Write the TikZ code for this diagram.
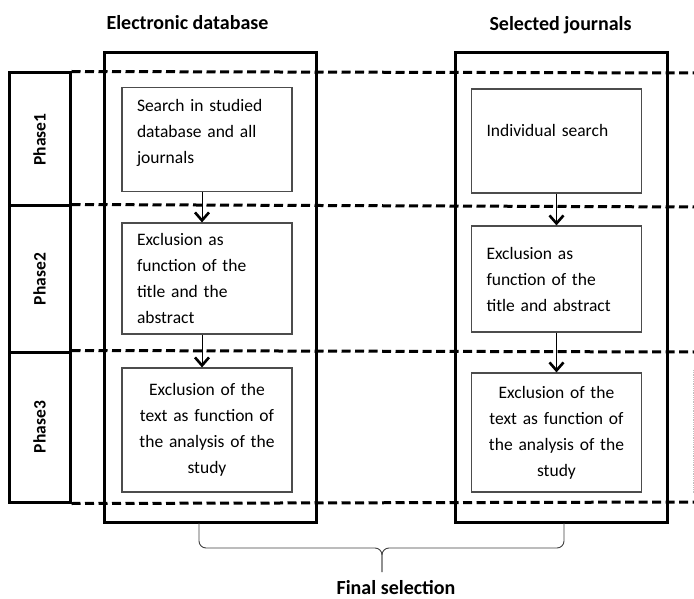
\documentclass[tikz,border=0pt]{standalone}
\usepackage{fontspec}
\setmainfont{Carlito}
\usepackage{graphicx}
\usetikzlibrary{arrows.meta}

\begin{document}
\begin{tikzpicture}[x=1pt, y=-1pt,
  every node/.style={font=\fontsize{17.5}{26}\selectfont},
  colbox/.style={draw, line width=3pt, minimum width=212pt, minimum height=469pt},
  phasebox/.style={draw, line width=3pt, minimum width=61pt},
  stepbox/.style={draw=black!70, line width=1.2pt, fill=white, inner xsep=15pt,
    text width=140pt, minimum width=168pt},
  phaseline/.style={line width=3pt, dash pattern=on 9pt off 4.5pt},
  arr/.style={line width=0.9pt, -{Straight Barb[length=8pt, width=14pt, line width=2.6pt]}},
  hdr/.style={font=\fontsize{20}{24}\selectfont\bfseries}]
\useasboundingbox (0,0) rectangle (694,599);

% columns and phases
\draw
(210, 287.5) node[colbox](dbcol){}
(561, 287.5) node[colbox](jrcol){}
(39.5, 139.5) node[phasebox, minimum height=133pt](p1){\rotatebox{90}{\bfseries Phase1}}
(39.5, 279) node[phasebox, minimum height=146pt](p2){\rotatebox{90}{\bfseries Phase2}}
(39.5, 427) node[phasebox, minimum height=150pt](p3){\rotatebox{90}{\bfseries Phase3}}
(103, 23) node[hdr, anchor=west](hdb){Electronic database}
(486, 25) node[hdr, anchor=west](hjr){Selected journals}
(396, 588) node[hdr](final){Final selection};

\coordinate (e1) at (694, 73);
\coordinate (e2) at (694, 207);
\coordinate (e3) at (694, 352);
\coordinate (e4) at (694, 502);
\draw[phaseline] (p1.north east) -- (e1);
\draw[phaseline] (p2.north east) -- (e2);
\draw[phaseline] (p3.north east) -- (e3);
\draw[phaseline] (p3.south east) -- (e4);

% boxes
\draw
(207, 139.5) node[stepbox, align=left, minimum height=104pt](db1){Search in studied\\database and all\\journals\rule[-16pt]{0pt}{1pt}}
(207, 278.5) node[stepbox, align=left, minimum height=111pt](db2){Exclusion as\\function of the\\title and the\\abstract}
(207, 430) node[stepbox, align=center, minimum height=124pt](db3){Exclusion of the\\text as function of\\the analysis of the\\study}
(556.5, 141) node[stepbox, align=left, minimum height=104pt](jr1){Individual search\rule[-22pt]{0pt}{1pt}}
(556.5, 279) node[stepbox, align=left, minimum height=106pt](jr2){Exclusion as\\function of the\\title and abstract}
(556.5, 432.5) node[stepbox, align=center, minimum height=119pt](jr3){Exclusion of the\\text as function of\\the analysis of the\\study};

\draw[arr] ([xshift=-5pt]db1.south) -- ([xshift=-5pt]db2.north);
\draw[arr] ([xshift=-5pt]db2.south) -- ([xshift=-5pt]db3.north);
\draw[arr] (jr1.south) -- (jr2.north);
\draw[arr] (jr2.south) -- (jr3.north);

% brace
\coordinate (bl) at (199, 523);
\coordinate (br) at (564, 523);
\coordinate (bt) at (382, 572);
\draw[black!75, line width=0.9pt, rounded corners=7pt] (bl) -- (bl |- 0,548) -- (bt |- 0,548) -- (bt);
\draw[black!75, line width=0.9pt, rounded corners=7pt] (br) -- (br |- 0,548) -- (bt |- 0,548) -- (bt);

\draw[black!25, densely dotted, line width=0.8pt] (693, 370) -- (693, 494);
\end{tikzpicture}
\end{document}
